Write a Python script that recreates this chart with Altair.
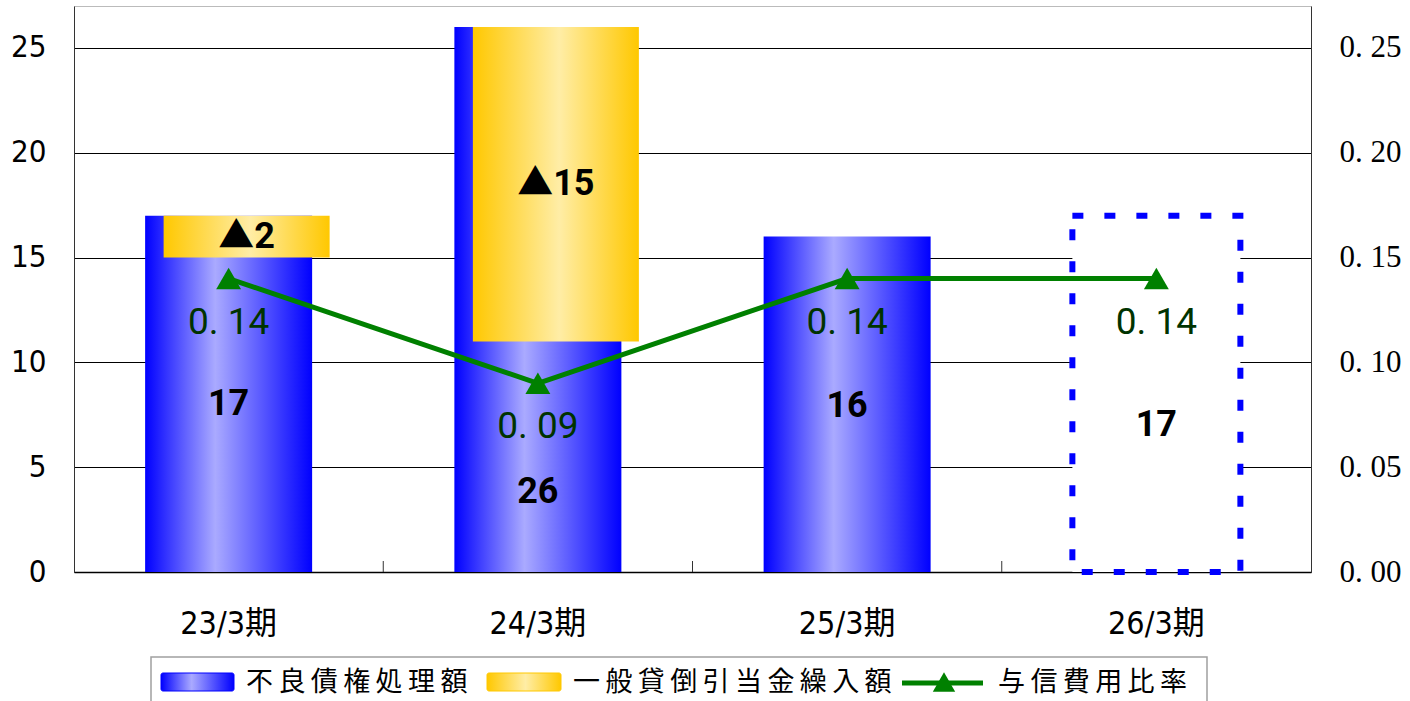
import altair as alt
import pandas as pd

# ---- data -------------------------------------------------------------
periods = ["23/3期", "24/3期", "25/3期", "26/3期"]
write_offs = [17, 26, 16, 17]                    # 不良債権処理額
provisions = [-2, -15, None, None]               # 一般貸倒引当金繰入額 (▲ = 取崩)
credit_cost_ratio = [0.14, 0.09, 0.14, 0.14]     # 与信費用比率
is_plan = [False, False, False, True]            # 26/3期 is a forecast
value_label_at = [8.0, 3.8, 7.9, 7.0]            # height of the amount labels
series_names = ["不良債権処理額", "一般貸倒引当金繰入額", "与信費用比率"]
amount_ticks = [0, 5, 10, 15, 20, 25]
ratio_ticks = [0.0, 0.05, 0.10, 0.15, 0.20, 0.25]

df = pd.DataFrame({
    "period": periods,
    "write_off": write_offs,
    "provision": provisions,
    "ratio": credit_cost_ratio,
    "plan": is_plan,
    "label_at": value_label_at,
})

# ---- styling ------------------------------------------------------------
W, H = 1237, 566
STEP = W / len(periods)
NARROW = "Liberation Sans Narrow, DejaVu Sans Condensed, Liberation Sans, Noto Sans CJK JP"
LABEL = "Roboto, Noto Sans CJK JP"
JP = "Noto Sans CJK JP"
GREEN = "#008000"

blue_grad = alt.LinearGradient(
    gradient="linear", x1=0, x2=1, y1=0, y2=0,
    stops=[alt.GradientStop(color="#0000FF", offset=0),
           alt.GradientStop(color="#AAAAFF", offset=0.42),
           alt.GradientStop(color="#0000FF", offset=1)],
)
gold_grad = alt.LinearGradient(
    gradient="linear", x1=0, x2=1, y1=0, y2=0,
    stops=[alt.GradientStop(color="#FFC800", offset=0),
           alt.GradientStop(color="#FFEDA6", offset=0.52),
           alt.GradientStop(color="#FFC800", offset=1)],
)

x_enc = alt.X(
    "period:N", sort=periods, title=None,
    scale=alt.Scale(paddingInner=0, paddingOuter=0),
    axis=alt.Axis(labelAngle=0, ticks=False, labelPadding=36, labelFont=NARROW,
                  labelFontSize=32, labelColor="#000", domainColor="#000",
                  domainWidth=1.5),
)
amount_axis = alt.Axis(values=amount_ticks, ticks=False, labelPadding=28,
                       labelFont=NARROW, labelFontSize=31, labelColor="#000",
                       domainColor="#333", grid=True, gridColor="#000",
                       gridWidth=1)
amount_scale = alt.Scale(domain=[0, 27], nice=False)
ratio_axis = alt.Axis(orient="right", values=ratio_ticks, ticks=False,
                      labelPadding=28, labelFont="Liberation Serif",
                      labelFontSize=31, labelColor="#000", domainColor="#333",
                      grid=False,
                      labelExpr="replace(format(datum.value, '.2f'), '.', '. ')")
ratio_scale = alt.Scale(domain=[0, 0.27], nice=False)


def amt(field):
    return alt.Y(field, scale=amount_scale, axis=amount_axis, title=None)


base = alt.Chart(df).encode(x=x_enc)

# actual write-offs
blue_bars = base.transform_filter("!datum.plan").mark_bar(
    width=167, color=blue_grad
).encode(y=amt("write_off:Q"))

# forecast: dashed outline
plan_bar = base.transform_filter("datum.plan").mark_bar(
    width=168, fill="white", stroke="#0000FF", strokeWidth=6,
    strokeDash=[11, 21]
).encode(y=amt("write_off:Q"))

# provisions (reversals drawn down from the top of the write-off bar)
prov = base.transform_filter("datum.provision != null").transform_calculate(
    prov_lo="datum.write_off + datum.provision",
    prov_mid="datum.write_off + datum.provision / 2",
    prov_text="'▲' + abs(datum.provision)",
)
gold_bars = prov.mark_bar(width=166, xOffset=18, color=gold_grad).encode(
    y=amt("prov_lo:Q"), y2="write_off:Q"
)
gold_labels = prov.mark_text(
    xOffset=18, font=LABEL, fontSize=36, fontWeight="bold", color="#000"
).encode(y=amt("prov_mid:Q"), text="prov_text:N")

amount_labels = base.mark_text(
    font=LABEL, fontSize=36, fontWeight="bold", color="#000"
).encode(y=amt("label_at:Q"), text="write_off:Q")

# small inward ticks at the category boundaries
band_ticks = base.transform_filter(
    alt.FieldOneOfPredicate(field="period", oneOf=periods[:-1])
).mark_rule(color="#333", xOffset=STEP / 2).encode(
    y=alt.value(H - 11), y2=alt.value(H)
)

left = alt.layer(blue_bars, plan_bar, gold_bars, band_ticks, gold_labels,
                 amount_labels)

ratio_line = base.mark_line(color=GREEN, strokeWidth=5).encode(
    y=alt.Y("ratio:Q", scale=ratio_scale, axis=ratio_axis, title=None)
)
ratio_pts = base.mark_point(
    shape="triangle-up", filled=True, size=620, color=GREEN, opacity=1
).encode(y=alt.Y("ratio:Q", scale=ratio_scale, axis=ratio_axis, title=None))
ratio_labels = base.transform_calculate(
    ratio_text="replace(format(datum.ratio, '.2f'), '.', '. ')"
).mark_text(font=LABEL, fontSize=37, color="#003300", dy=44).encode(
    y=alt.Y("ratio:Q", scale=ratio_scale, axis=ratio_axis, title=None),
    text="ratio_text:N",
)
right = alt.layer(ratio_line, ratio_pts, ratio_labels)

# ---- legend (drawn below the plot) ----------------------------------------
one = pd.DataFrame({"k": [0]})


def legend_text(name, x):
    return alt.Chart(pd.DataFrame({"name": ["\u2009".join(name)]})).mark_text(
        font=JP, fontSize=27, align="left", baseline="middle", color="#000"
    ).encode(text="name:N", x=alt.value(x), y=alt.value(677))


legend_box = alt.Chart(one).mark_rect(
    fill="white", stroke="#A0A0A0", strokeWidth=1.5
).encode(x=alt.value(77), x2=alt.value(1133), y=alt.value(651), y2=alt.value(720))
swatch_blue = alt.Chart(one).mark_rect(
    color=blue_grad, stroke="#0000FF", strokeWidth=1, cornerRadius=2
).encode(x=alt.value(87), x2=alt.value(160), y=alt.value(667), y2=alt.value(685))
swatch_gold = alt.Chart(one).mark_rect(
    color=gold_grad, stroke="#FFC800", strokeWidth=1, cornerRadius=2
).encode(x=alt.value(413), x2=alt.value(487), y=alt.value(667), y2=alt.value(685))
legend_line = alt.Chart(one).mark_rule(color=GREEN, strokeWidth=5).encode(
    x=alt.value(828), x2=alt.value(909), y=alt.value(677)
)
legend_tri = alt.Chart(one).mark_point(
    shape="triangle-up", filled=True, size=500, color=GREEN, opacity=1
).encode(x=alt.value(870), y=alt.value(676))

legend = alt.layer(
    legend_box, swatch_blue, swatch_gold, legend_line, legend_tri,
    legend_text(series_names[0], 172),
    legend_text(series_names[1], 499),
    legend_text(series_names[2], 924),
)

chart = alt.layer(left, right, legend).resolve_scale(
    y="independent"
).properties(
    width=W, height=H,
    padding={"left": 74, "top": 6, "right": 99, "bottom": 129},
    autosize=alt.AutoSizeParams(type="none"),
    background="white",
).configure_view(stroke="#BBBBBB", strokeWidth=1)

chart.save("out.html", embed_options={"renderer": "svg", "actions": False})
